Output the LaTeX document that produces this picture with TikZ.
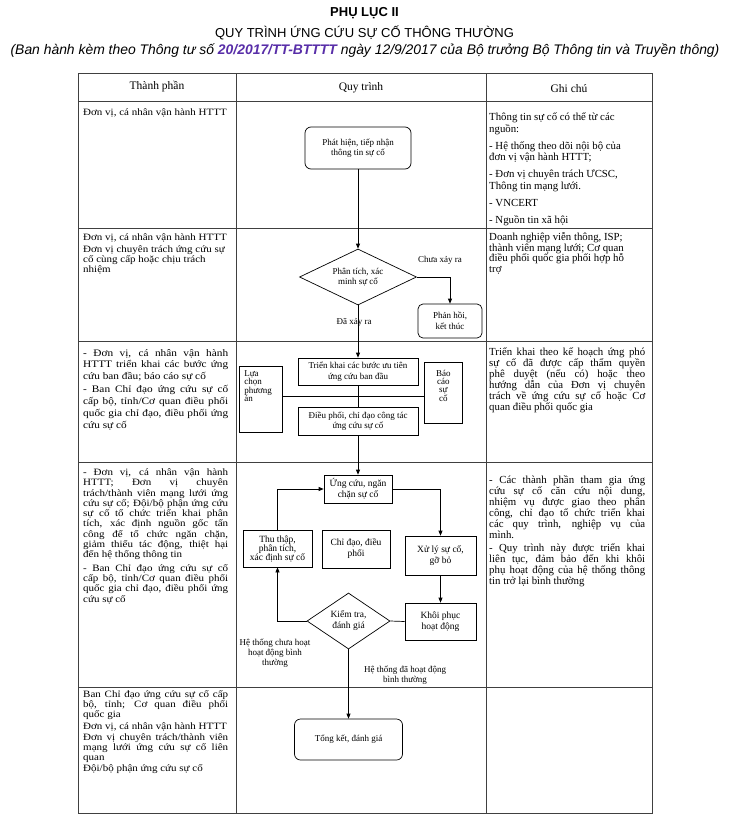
\documentclass[tikz,border=0pt]{standalone}
\usepackage{fontspec}
\setmainfont{Liberation Serif}
\newfontfamily\titlefont{Liberation Sans}
\usetikzlibrary{calc, positioning, arrows.meta, shapes.geometric}
\definecolor{decreeblue}{RGB}{88,46,168}

\begin{document}
\begin{tikzpicture}[x=1pt, y=-1pt,
    grid/.style={line width=.9pt, black!75},
    role/.style n args={3}{anchor=base west, inner sep=0pt, text width=145pt,
      yscale=.88, align=justify, font=\fontsize{#1}{#2}\selectfont,
      execute at begin node={\setlength{\parskip}{#3}}},
    note/.style n args={3}{anchor=base west, inner sep=0pt, text width=156pt,
      align=justify, font=\fontsize{#1}{#2}\selectfont,
      execute at begin node={\setlength{\parskip}{#3}}},
    head/.style={font=\fontsize{11.5}{12}\selectfont},
    box/.style={draw, line width=.7pt, align=center, inner sep=1pt,
      font=\fontsize{9}{10.5}\selectfont},
    endbox/.style={box, rounded corners=6pt},
    ask/.style={box, diamond, aspect=2, inner sep=0pt},
    tag/.style={align=center, inner sep=0pt, font=\fontsize{9}{10}\selectfont},
    link/.style={line width=.7pt},
    arr/.style={link, -{Triangle[length=5pt, width=4pt]}}]
  \useasboundingbox (0,0) rectangle (729,827);

  % titles
  \node[font=\titlefont\bfseries\fontsize{13}{15}\selectfont, anchor=base] (annex) at (364.5,16.6) {PHỤ LỤC II};
  \node[font=\titlefont\fontsize{13}{15}\selectfont, anchor=base] (title) at (364.5,37.6) {QUY TRÌNH ỨNG CỨU SỰ CỐ THÔNG THƯỜNG};
  \node[font=\titlefont\itshape\fontsize{13.9}{15}\selectfont, anchor=base] (issued) at (365,54)
    {(Ban hành kèm theo Thông tư số \textbf{\color{decreeblue}20/2017/TT-BTTTT} ngày 12/9/2017 của Bộ trưởng Bộ Thông tin và Truyền thông)};

  % table
  \draw[grid] (78,73) rectangle (652,813);
  \foreach \y in {101,228,341,462,687}
    \draw[grid] (78,\y) -- (652,\y);
  \foreach \x in {236,486}
    \draw[grid] (\x,73) -- (\x,813);

  \node[head] (hrole) at (157,87) {Thành phần};
  \node[head] (hflow) at (361,88) {Quy trình};
  \node[head] (hnote) at (569,89) {Ghi chú};

  % left column
  \node[role={11}{11}{0pt}] (who1) at (83,115.5) {Đơn vị, cá nhân vận hành HTTT};
  \node[role={11}{11.7}{1.4pt}] (who2) at (83,240.5) {Đơn vị, cá nhân vận hành HTTT\par
    Đơn vị chuyên trách ứng cứu sự\\ cố cùng cấp hoặc chịu trách\\ nhiệm};
  \node[role={11.3}{13.6}{1.2pt}] (who3) at (83,356) {- Đơn vị, cá nhân vận hành\linebreak
    HTTT triển khai các bước ứng\linebreak cứu ban đầu; báo cáo sự cố\par
    - Ban Chỉ đạo ứng cứu sự cố\linebreak cấp bộ, tỉnh/Cơ quan điều phối\linebreak
    quốc gia chỉ đạo, điều phối ứng\linebreak cứu sự cố};
  \node[role={11}{11.7}{3.6pt}] (who4) at (83,475.5) {- Đơn vị, cá nhân vận hành\linebreak
    HTTT; Đơn vị chuyên\linebreak trách/thành viên mạng lưới ứng\linebreak
    cứu sự cố; Đội/bộ phận ứng cứu\linebreak sự cố tổ chức triển khai phân\linebreak
    tích, xác định nguồn gốc tấn\linebreak công để tổ chức ngăn chặn,\linebreak
    giảm thiểu tác động, thiệt hại\linebreak đến hệ thống thông tin\par
    - Ban Chỉ đạo ứng cứu sự cố\linebreak cấp bộ, tỉnh/Cơ quan điều phối\linebreak
    quốc gia chỉ đạo, điều phối ứng\linebreak cứu sự cố};
  \node[role={11}{11.4}{1.6pt}] (who5) at (83,697.5) {Ban Chỉ đạo ứng cứu sự cố cấp\linebreak
    bộ, tỉnh; Cơ quan điều phối\linebreak quốc gia\par
    Đơn vị, cá nhân vận hành HTTT\par
    Đơn vị chuyên trách/thành viên\linebreak mạng lưới ứng cứu sự cố liên\linebreak quan\par
    Đội/bộ phận ứng cứu sự cố};

  % right column
  \node[note={10.8}{11.6}{5.4pt}] (remark1) at (489,120.5) {Thông tin sự cố có thể từ các\\ nguồn:\par
    - Hệ thống theo dõi nội bộ của\\ đơn vị vận hành HTTT;\par
    - Đơn vị chuyên trách ƯCSC,\\ Thông tin mạng lưới.\par
    - VNCERT\par
    - Nguồn tin xã hội};
  \node[note={10.8}{10.6}{0pt}] (remark2) at (489,240.5) {Doanh nghiệp viễn thông, ISP;\\
    thành viên mạng lưới; Cơ quan\\ điều phối quốc gia phối hợp hỗ\\ trợ};
  \node[note={10.8}{11}{0pt}] (remark3) at (489,355.5) {Triển khai theo kế hoạch ứng phó\linebreak
    sự cố đã được cấp thẩm quyền\linebreak phê duyệt (nếu có) hoặc theo\linebreak
    hướng dẫn của Đơn vị chuyên\linebreak trách về ứng cứu sự cố hoặc Cơ\linebreak
    quan điều phối quốc gia};
  \node[note={10.8}{11}{2pt}] (remark4) at (489,483.5) {- Các thành phần tham gia ứng\linebreak
    cứu sự cố căn cứu nội dung,\linebreak nhiệm vụ được giao theo phân\linebreak
    công, chỉ đạo tổ chức triển khai\linebreak các quy trình, nghiệp vụ của\linebreak mình.\par
    - Quy trình này được triển khai\linebreak liên tục, đảm bảo đến khi khôi\linebreak
    phụ hoạt động của hệ thống thông\linebreak tin trở lại bình thường};

  % process
  \node[endbox, minimum width=106pt, minimum height=42pt] (detect) at (358,148) {Phát hiện, tiếp nhận\\thông tin sự cố};
  \node[ask, minimum width=117pt, minimum height=56pt] (analyze) at (358,277) {Phân tích, xác\\minh sự cố};
  \node[endbox, minimum width=64pt, minimum height=34pt, rounded corners=5pt] (reply) at (450,321) {Phản hồi,\\kết thúc};
  \node[tag] (notyet) at (440,260) {Chưa xảy ra};
  \node[tag] (happened) at (354,322) {Đã xảy ra};

  \node[box, minimum width=120pt, minimum height=27pt] (deploy) at (358,371.5) {Triển khai các bước ưu tiên\\ứng cứu ban đầu};
  \node[box, minimum width=120pt, minimum height=28pt] (coord) at (358,421) {Điều phối, chỉ đạo công tác\\ứng cứu sự cố};
  \node[box, anchor=north west, text width=33pt, align=left, inner xsep=5pt, inner ysep=3pt,
    text height=7pt, text depth=53pt, font=\fontsize{9}{8.5}\selectfont] (choose) at (239,366) {Lựa\\chọn\\phương\\án};
  \node[box, anchor=north west, text width=30pt, inner xsep=4pt, inner ysep=3pt,
    text height=11.5pt, text depth=43.5pt, font=\fontsize{9}{7.8}\selectfont] (report) at (424,362) {Báo\\cáo\\sự\\cố};

  \node[box, minimum width=68pt, minimum height=28pt, font=\fontsize{9.5}{11}\selectfont] (respond) at (358,489) {Ứng cứu, ngăn\\chặn sự cố};
  \node[box, minimum width=69pt, minimum height=37pt, font=\fontsize{9.5}{9}\selectfont] (collect) at (277.5,548.5) {Thu thập,\\phân tích,\\xác định sự cố};
  \node[box, minimum width=68pt, minimum height=38pt, font=\fontsize{9.5}{11}\selectfont] (direct) at (356,549) {Chỉ đạo, điều\\phối};
  \node[box, minimum width=71pt, minimum height=39pt, font=\fontsize{9.5}{11}\selectfont] (handle) at (440.5,555.5) {Xử lý sự cố,\\gỡ bỏ};
  \node[box, minimum width=71pt, minimum height=37pt, font=\fontsize{9.5}{11}\selectfont] (restore) at (440.5,621.5) {Khôi phục\\hoạt động};
  \node[ask, minimum width=83pt, minimum height=56pt, font=\fontsize{9.5}{11}\selectfont] (check) at (348.5,621) {Kiểm tra,\\đánh giá};
  \node[tag] (notok) at (275,653) {Hệ thống chưa hoạt\\hoạt động bình\\thường};
  \node[tag] (ok) at (405,675) {Hệ thống đã hoạt động\\bình thường};
  \node[endbox, minimum width=108pt, minimum height=41pt] (summary) at (348.5,739.5) {Tổng kết, đánh giá};

  \draw[arr] (detect.south) -- (detect.south |- analyze.north);
  \draw[arr] (analyze.east) -| (reply.north);
  \draw[arr] (analyze.south) -- (deploy.north);
  \draw[link] (deploy.south) -- (coord.north);
  \coordinate (jn) at ($(deploy.south)!.5!(coord.north)$);
  \draw[link] (choose.east |- jn) -- (report.west |- jn);
  \draw[arr] (coord.south) -- (respond.north);
  \draw[arr] (respond.east) -| (handle.north);
  \draw[arr] (handle.south) -- (restore.north);
  \draw[link] (restore.west) -- (check.east);
  \draw[arr] (check.west) -| (collect.south);
  \draw[arr] (collect.north) |- (respond.west);
  \draw[arr] (check.south) -- (summary.north);
\end{tikzpicture}
\end{document}
